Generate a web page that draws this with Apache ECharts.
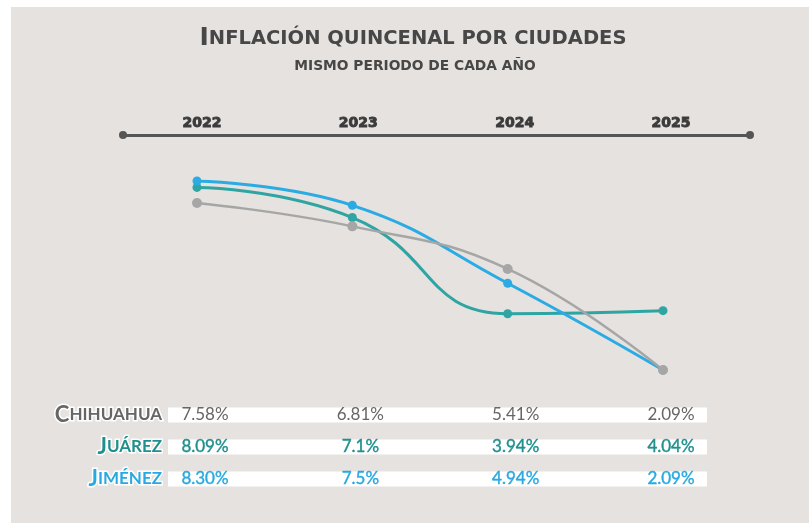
<!DOCTYPE html>
<html>
<head>
<meta charset="utf-8">
<script src="https://cdn.jsdelivr.net/npm/echarts@6/dist/echarts.min.js"></script>
<style>
  html, body { margin: 0; padding: 0; background: #fff; }
  #chart { width: 809px; height: 523px; }
</style>
</head>
<body>
<div id="chart"></div>
<script>
// datos
const years = ['2022', '2023', '2024', '2025'];
const chihuahua = [7.58, 6.81, 5.41, 2.09];
const juarez = [8.09, 7.1, 3.94, 4.04];
const jimenez = [8.30, 7.5, 4.94, 2.09];
const chihuahuaText = ['7.58%', '6.81%', '5.41%', '2.09%'];
const juarezText = ['8.09%', '7.1%', '3.94%', '4.04%'];
const jimenezText = ['8.30%', '7.5%', '4.94%', '2.09%'];

const gris = '#a6a6a6';
const verde = '#2ea5a3';
const azul = '#2aabe3';

const myChart = echarts.init(document.getElementById('chart'));

// nombre de fila en versalitas con borde blanco
function rowName(first, rest, color) {
  const base = {
    fontFamily: 'Lato', fontWeight: 'bold', color: color,
    textBorderColor: '#fff', textBorderWidth: 3
  };
  return {
    name: '{a|' + first + '}{b|' + rest + '}',
    nameTextStyle: {
      rich: {
        a: Object.assign({ fontSize: 22 }, base),
        b: Object.assign({ fontSize: 17 }, base)
      }
    }
  };
}

function rowAxis(grid, labels, color, weight, nm) {
  return Object.assign({
    type: 'category', gridIndex: grid, data: years, boundaryGap: false,
    position: 'bottom', nameLocation: 'start', nameGap: 43,
    axisLine: { show: false }, axisTick: { show: false }, splitLine: { show: false },
    axisLabel: {
      margin: 0, verticalAlign: 'middle', fontFamily: 'Lato', fontSize: 17, color: color,
      textBorderColor: color, textBorderWidth: weight,
      formatter: (v, i) => labels[i]
    }
  }, nm);
}

const rowY = [415, 447, 479];

const option = {
  backgroundColor: '#fff',
  animation: false,
  title: [{
    text: '{a|I}{b|NFLACIÓN QUINCENAL POR CIUDADES}',
    left: 408, textAlign: 'center', top: 21,
    textStyle: {
      rich: {
        a: { fontFamily: 'DejaVu Sans', fontWeight: 'bold', fontSize: 25, color: '#474747' },
        b: { fontFamily: 'DejaVu Sans', fontWeight: 'bold', fontSize: 19.5, color: '#474747' }
      }
    }
  }, {
    text: 'MISMO PERIODO DE CADA AÑO',
    left: 410, textAlign: 'center', top: 54,
    textStyle: { fontFamily: 'DejaVu Sans', fontWeight: 'bold', fontSize: 13.8, color: '#474747' }
  }],
  graphic: [
    { type: 'rect', z: -10, shape: { x: 11, y: 7, width: 798, height: 516 }, style: { fill: '#e5e2df' } },
    { type: 'rect', z: -5, shape: { x: 168, y: rowY[0] - 7.5, width: 539, height: 15 }, style: { fill: '#fff' } },
    { type: 'rect', z: -5, shape: { x: 168, y: rowY[1] - 7.5, width: 539, height: 15 }, style: { fill: '#fff' } },
    { type: 'rect', z: -5, shape: { x: 168, y: rowY[2] - 7.5, width: 539, height: 15 }, style: { fill: '#fff' } }
  ],
  grid: [
    { left: 197, right: 146, top: 181, bottom: 153 },
    { left: 123, right: 59, top: 130, height: 5 },
    { left: 202, right: 138, top: 100, height: 23 },
    { left: 205, right: 138, bottom: 523 - rowY[0], height: 10 },
    { left: 205, right: 138, bottom: 523 - rowY[1], height: 10 },
    { left: 205, right: 138, bottom: 523 - rowY[2], height: 10 }
  ],
  xAxis: [
    { type: 'category', gridIndex: 0, data: years, boundaryGap: false, show: false },
    {
      type: 'value', gridIndex: 1, min: 0, max: 1,
      axisLine: { show: true, symbol: ['circle', 'circle'], symbolSize: [8, 8], lineStyle: { color: '#555', width: 3 } },
      axisTick: { show: false }, axisLabel: { show: false }, splitLine: { show: false }
    },
    {
      type: 'category', gridIndex: 2, data: years, boundaryGap: false, position: 'bottom',
      axisLine: { show: false }, axisTick: { show: false },
      axisLabel: {
        margin: 0, verticalAlign: 'middle', fontFamily: 'DejaVu Sans', fontWeight: 'bold', fontSize: 14,
        color: '#3b3b3b', textBorderColor: '#3b3b3b', textBorderWidth: 0.9
      }
    },
    rowAxis(3, chihuahuaText, '#666', 0, rowName('C', 'HIHUAHUA', '#666')),
    rowAxis(4, juarezText, '#1f908e', 0.4, rowName('J', 'UÁREZ', '#1f908e')),
    rowAxis(5, jimenezText, '#29a9e1', 0.4, rowName('J', 'IMÉNEZ', '#29a9e1'))
  ],
  yAxis: [
    { type: 'value', gridIndex: 0, min: 'dataMin', max: 'dataMax', show: false },
    { type: 'value', gridIndex: 1, show: false },
    { type: 'value', gridIndex: 2, show: false },
    { type: 'value', gridIndex: 3, show: false },
    { type: 'value', gridIndex: 4, show: false },
    { type: 'value', gridIndex: 5, show: false }
  ],
  series: [
    {
      name: 'Juárez', type: 'line', data: juarez, smooth: 0.5,
      symbol: 'circle', symbolSize: 9,
      lineStyle: { color: verde, width: 3 }, itemStyle: { color: verde }
    },
    {
      name: 'Jiménez', type: 'line', data: jimenez, smooth: 0.45,
      symbol: 'circle', symbolSize: 9,
      lineStyle: { color: azul, width: 3 }, itemStyle: { color: azul }
    },
    {
      name: 'Chihuahua', type: 'line', data: chihuahua, smooth: 0.45,
      symbol: 'circle', symbolSize: 10,
      lineStyle: { color: gris, width: 2.5 }, itemStyle: { color: gris }
    }
  ]
};

myChart.setOption(option);
</script>
</body>
</html>
